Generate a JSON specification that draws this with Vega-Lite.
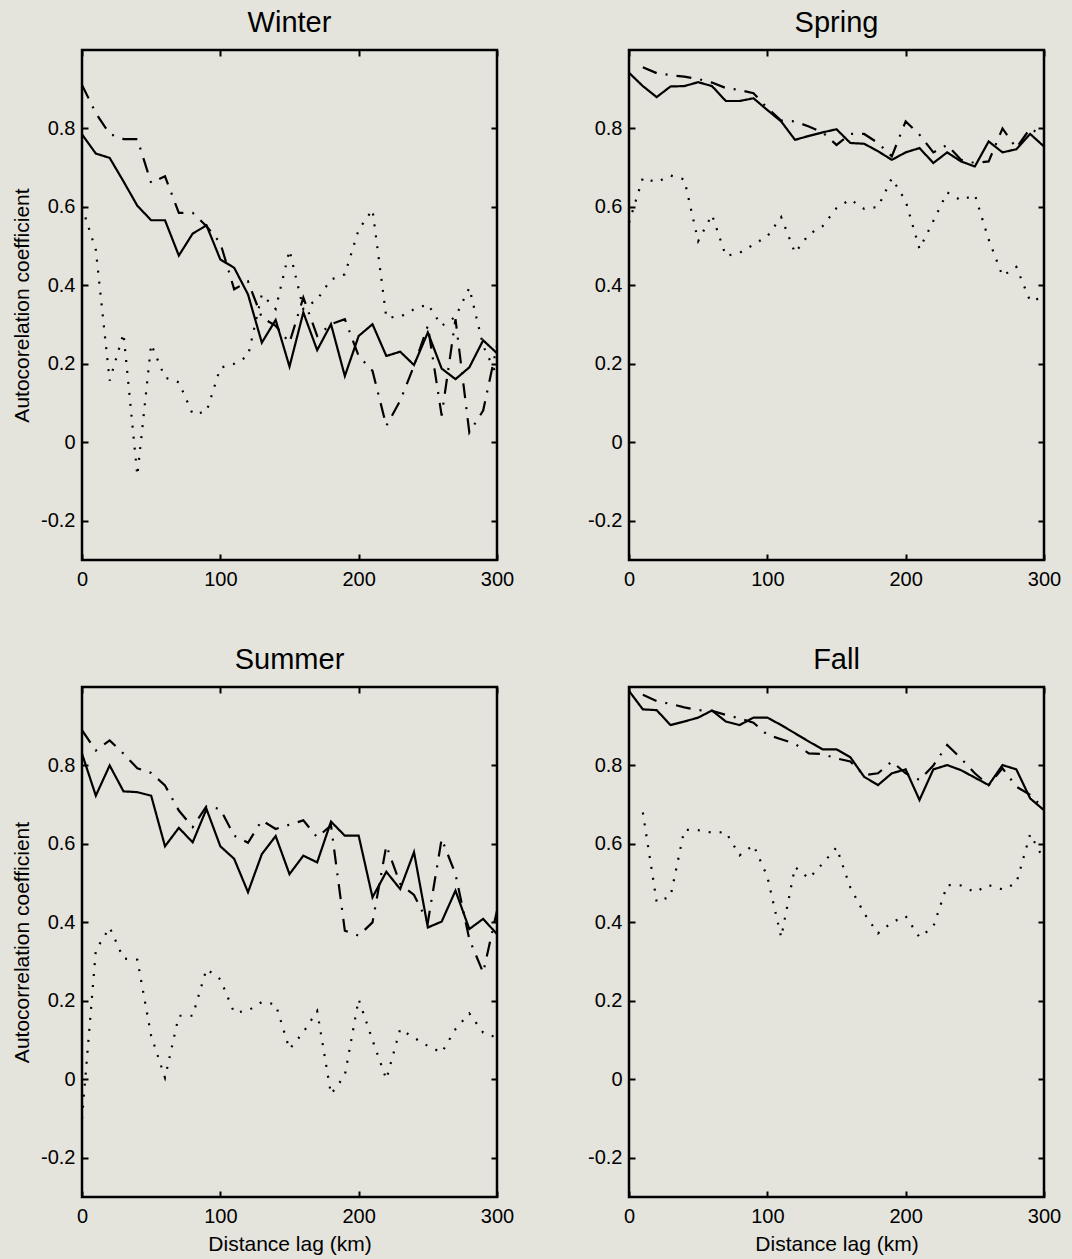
{
  "$schema": "https://vega.github.io/schema/vega-lite/v6.json",
  "background": "#e4e4dd",
  "padding": {"left": 10, "top": 7, "right": 27, "bottom": 4},
  "data": {"values": [
    {"season":"Winter","series":"series 1","lag":0,"r":0.785},{"season":"Winter","series":"series 1","lag":10,"r":0.736},{"season":"Winter","series":"series 1","lag":20,"r":0.725},{"season":"Winter","series":"series 1","lag":30,"r":0.665},{"season":"Winter","series":"series 1","lag":40,"r":0.603},{"season":"Winter","series":"series 1","lag":50,"r":0.566},{"season":"Winter","series":"series 1","lag":60,"r":0.566},{"season":"Winter","series":"series 1","lag":70,"r":0.476},{"season":"Winter","series":"series 1","lag":80,"r":0.532},{"season":"Winter","series":"series 1","lag":90,"r":0.553},{"season":"Winter","series":"series 1","lag":100,"r":0.466},{"season":"Winter","series":"series 1","lag":110,"r":0.445},{"season":"Winter","series":"series 1","lag":120,"r":0.377},{"season":"Winter","series":"series 1","lag":130,"r":0.254},{"season":"Winter","series":"series 1","lag":140,"r":0.312},{"season":"Winter","series":"series 1","lag":150,"r":0.193},{"season":"Winter","series":"series 1","lag":160,"r":0.331},{"season":"Winter","series":"series 1","lag":170,"r":0.235},{"season":"Winter","series":"series 1","lag":180,"r":0.301},{"season":"Winter","series":"series 1","lag":190,"r":0.169},{"season":"Winter","series":"series 1","lag":200,"r":0.271},{"season":"Winter","series":"series 1","lag":210,"r":0.301},{"season":"Winter","series":"series 1","lag":220,"r":0.22},{"season":"Winter","series":"series 1","lag":230,"r":0.231},{"season":"Winter","series":"series 1","lag":240,"r":0.197},{"season":"Winter","series":"series 1","lag":250,"r":0.28},{"season":"Winter","series":"series 1","lag":260,"r":0.188},{"season":"Winter","series":"series 1","lag":270,"r":0.161},{"season":"Winter","series":"series 1","lag":280,"r":0.191},{"season":"Winter","series":"series 1","lag":290,"r":0.26},{"season":"Winter","series":"series 1","lag":300,"r":0.227},
    {"season":"Winter","series":"series 2","lag":0,"r":0.911},{"season":"Winter","series":"series 2","lag":10,"r":0.839},{"season":"Winter","series":"series 2","lag":20,"r":0.786},{"season":"Winter","series":"series 2","lag":30,"r":0.773},{"season":"Winter","series":"series 2","lag":40,"r":0.773},{"season":"Winter","series":"series 2","lag":50,"r":0.661},{"season":"Winter","series":"series 2","lag":60,"r":0.678},{"season":"Winter","series":"series 2","lag":70,"r":0.585},{"season":"Winter","series":"series 2","lag":80,"r":0.585},{"season":"Winter","series":"series 2","lag":90,"r":0.551},{"season":"Winter","series":"series 2","lag":100,"r":0.508},{"season":"Winter","series":"series 2","lag":110,"r":0.39},{"season":"Winter","series":"series 2","lag":120,"r":0.41},{"season":"Winter","series":"series 2","lag":130,"r":0.318},{"season":"Winter","series":"series 2","lag":140,"r":0.297},{"season":"Winter","series":"series 2","lag":150,"r":0.254},{"season":"Winter","series":"series 2","lag":160,"r":0.369},{"season":"Winter","series":"series 2","lag":170,"r":0.271},{"season":"Winter","series":"series 2","lag":180,"r":0.301},{"season":"Winter","series":"series 2","lag":190,"r":0.314},{"season":"Winter","series":"series 2","lag":200,"r":0.22},{"season":"Winter","series":"series 2","lag":210,"r":0.182},{"season":"Winter","series":"series 2","lag":220,"r":0.042},{"season":"Winter","series":"series 2","lag":230,"r":0.106},{"season":"Winter","series":"series 2","lag":240,"r":0.195},{"season":"Winter","series":"series 2","lag":250,"r":0.297},{"season":"Winter","series":"series 2","lag":260,"r":0.068},{"season":"Winter","series":"series 2","lag":270,"r":0.314},{"season":"Winter","series":"series 2","lag":280,"r":0.025},{"season":"Winter","series":"series 2","lag":290,"r":0.081},{"season":"Winter","series":"series 2","lag":300,"r":0.246},
    {"season":"Winter","series":"series 3","lag":0,"r":0.6},{"season":"Winter","series":"series 3","lag":10,"r":0.49},{"season":"Winter","series":"series 3","lag":20,"r":0.157},{"season":"Winter","series":"series 3","lag":30,"r":0.278},{"season":"Winter","series":"series 3","lag":40,"r":-0.085},{"season":"Winter","series":"series 3","lag":50,"r":0.25},{"season":"Winter","series":"series 3","lag":60,"r":0.165},{"season":"Winter","series":"series 3","lag":70,"r":0.153},{"season":"Winter","series":"series 3","lag":80,"r":0.072},{"season":"Winter","series":"series 3","lag":90,"r":0.078},{"season":"Winter","series":"series 3","lag":100,"r":0.19},{"season":"Winter","series":"series 3","lag":110,"r":0.2},{"season":"Winter","series":"series 3","lag":120,"r":0.22},{"season":"Winter","series":"series 3","lag":130,"r":0.377},{"season":"Winter","series":"series 3","lag":140,"r":0.34},{"season":"Winter","series":"series 3","lag":150,"r":0.49},{"season":"Winter","series":"series 3","lag":160,"r":0.34},{"season":"Winter","series":"series 3","lag":170,"r":0.364},{"season":"Winter","series":"series 3","lag":180,"r":0.415},{"season":"Winter","series":"series 3","lag":190,"r":0.428},{"season":"Winter","series":"series 3","lag":200,"r":0.542},{"season":"Winter","series":"series 3","lag":210,"r":0.593},{"season":"Winter","series":"series 3","lag":220,"r":0.318},{"season":"Winter","series":"series 3","lag":230,"r":0.32},{"season":"Winter","series":"series 3","lag":240,"r":0.339},{"season":"Winter","series":"series 3","lag":250,"r":0.352},{"season":"Winter","series":"series 3","lag":260,"r":0.297},{"season":"Winter","series":"series 3","lag":270,"r":0.32},{"season":"Winter","series":"series 3","lag":280,"r":0.394},{"season":"Winter","series":"series 3","lag":290,"r":0.246},{"season":"Winter","series":"series 3","lag":300,"r":0.17},
    {"season":"Spring","series":"series 1","lag":0,"r":0.942},{"season":"Spring","series":"series 1","lag":10,"r":0.908},{"season":"Spring","series":"series 1","lag":20,"r":0.88},{"season":"Spring","series":"series 1","lag":30,"r":0.907},{"season":"Spring","series":"series 1","lag":40,"r":0.908},{"season":"Spring","series":"series 1","lag":50,"r":0.918},{"season":"Spring","series":"series 1","lag":60,"r":0.908},{"season":"Spring","series":"series 1","lag":70,"r":0.87},{"season":"Spring","series":"series 1","lag":80,"r":0.87},{"season":"Spring","series":"series 1","lag":90,"r":0.877},{"season":"Spring","series":"series 1","lag":100,"r":0.847},{"season":"Spring","series":"series 1","lag":110,"r":0.818},{"season":"Spring","series":"series 1","lag":120,"r":0.771},{"season":"Spring","series":"series 1","lag":130,"r":0.781},{"season":"Spring","series":"series 1","lag":140,"r":0.79},{"season":"Spring","series":"series 1","lag":150,"r":0.798},{"season":"Spring","series":"series 1","lag":160,"r":0.763},{"season":"Spring","series":"series 1","lag":170,"r":0.761},{"season":"Spring","series":"series 1","lag":180,"r":0.742},{"season":"Spring","series":"series 1","lag":190,"r":0.72},{"season":"Spring","series":"series 1","lag":200,"r":0.739},{"season":"Spring","series":"series 1","lag":210,"r":0.75},{"season":"Spring","series":"series 1","lag":220,"r":0.712},{"season":"Spring","series":"series 1","lag":230,"r":0.739},{"season":"Spring","series":"series 1","lag":240,"r":0.716},{"season":"Spring","series":"series 1","lag":250,"r":0.703},{"season":"Spring","series":"series 1","lag":260,"r":0.767},{"season":"Spring","series":"series 1","lag":270,"r":0.739},{"season":"Spring","series":"series 1","lag":280,"r":0.747},{"season":"Spring","series":"series 1","lag":290,"r":0.786},{"season":"Spring","series":"series 1","lag":300,"r":0.754},
    {"season":"Spring","series":"series 2","lag":10,"r":0.956},{"season":"Spring","series":"series 2","lag":20,"r":0.941},{"season":"Spring","series":"series 2","lag":30,"r":0.936},{"season":"Spring","series":"series 2","lag":40,"r":0.932},{"season":"Spring","series":"series 2","lag":50,"r":0.926},{"season":"Spring","series":"series 2","lag":60,"r":0.917},{"season":"Spring","series":"series 2","lag":70,"r":0.903},{"season":"Spring","series":"series 2","lag":80,"r":0.898},{"season":"Spring","series":"series 2","lag":90,"r":0.89},{"season":"Spring","series":"series 2","lag":100,"r":0.852},{"season":"Spring","series":"series 2","lag":110,"r":0.82},{"season":"Spring","series":"series 2","lag":120,"r":0.818},{"season":"Spring","series":"series 2","lag":130,"r":0.805},{"season":"Spring","series":"series 2","lag":140,"r":0.79},{"season":"Spring","series":"series 2","lag":150,"r":0.758},{"season":"Spring","series":"series 2","lag":160,"r":0.786},{"season":"Spring","series":"series 2","lag":170,"r":0.786},{"season":"Spring","series":"series 2","lag":180,"r":0.763},{"season":"Spring","series":"series 2","lag":190,"r":0.729},{"season":"Spring","series":"series 2","lag":200,"r":0.818},{"season":"Spring","series":"series 2","lag":210,"r":0.784},{"season":"Spring","series":"series 2","lag":220,"r":0.739},{"season":"Spring","series":"series 2","lag":230,"r":0.758},{"season":"Spring","series":"series 2","lag":240,"r":0.72},{"season":"Spring","series":"series 2","lag":250,"r":0.712},{"season":"Spring","series":"series 2","lag":260,"r":0.716},{"season":"Spring","series":"series 2","lag":270,"r":0.8},{"season":"Spring","series":"series 2","lag":280,"r":0.75},{"season":"Spring","series":"series 2","lag":290,"r":0.8},{"season":"Spring","series":"series 2","lag":300,"r":0.78},
    {"season":"Spring","series":"series 3","lag":0,"r":0.56},{"season":"Spring","series":"series 3","lag":10,"r":0.674},{"season":"Spring","series":"series 3","lag":20,"r":0.663},{"season":"Spring","series":"series 3","lag":30,"r":0.68},{"season":"Spring","series":"series 3","lag":40,"r":0.67},{"season":"Spring","series":"series 3","lag":50,"r":0.513},{"season":"Spring","series":"series 3","lag":60,"r":0.58},{"season":"Spring","series":"series 3","lag":70,"r":0.475},{"season":"Spring","series":"series 3","lag":80,"r":0.483},{"season":"Spring","series":"series 3","lag":90,"r":0.504},{"season":"Spring","series":"series 3","lag":100,"r":0.525},{"season":"Spring","series":"series 3","lag":110,"r":0.574},{"season":"Spring","series":"series 3","lag":120,"r":0.483},{"season":"Spring","series":"series 3","lag":130,"r":0.53},{"season":"Spring","series":"series 3","lag":140,"r":0.551},{"season":"Spring","series":"series 3","lag":150,"r":0.597},{"season":"Spring","series":"series 3","lag":160,"r":0.619},{"season":"Spring","series":"series 3","lag":170,"r":0.595},{"season":"Spring","series":"series 3","lag":180,"r":0.6},{"season":"Spring","series":"series 3","lag":190,"r":0.673},{"season":"Spring","series":"series 3","lag":200,"r":0.615},{"season":"Spring","series":"series 3","lag":210,"r":0.493},{"season":"Spring","series":"series 3","lag":220,"r":0.564},{"season":"Spring","series":"series 3","lag":230,"r":0.637},{"season":"Spring","series":"series 3","lag":240,"r":0.617},{"season":"Spring","series":"series 3","lag":250,"r":0.631},{"season":"Spring","series":"series 3","lag":260,"r":0.517},{"season":"Spring","series":"series 3","lag":270,"r":0.424},{"season":"Spring","series":"series 3","lag":280,"r":0.447},{"season":"Spring","series":"series 3","lag":290,"r":0.36},{"season":"Spring","series":"series 3","lag":300,"r":0.37},
    {"season":"Summer","series":"series 1","lag":0,"r":0.83},{"season":"Summer","series":"series 1","lag":10,"r":0.723},{"season":"Summer","series":"series 1","lag":20,"r":0.8},{"season":"Summer","series":"series 1","lag":30,"r":0.734},{"season":"Summer","series":"series 1","lag":40,"r":0.732},{"season":"Summer","series":"series 1","lag":50,"r":0.723},{"season":"Summer","series":"series 1","lag":60,"r":0.594},{"season":"Summer","series":"series 1","lag":70,"r":0.641},{"season":"Summer","series":"series 1","lag":80,"r":0.604},{"season":"Summer","series":"series 1","lag":90,"r":0.689},{"season":"Summer","series":"series 1","lag":100,"r":0.594},{"season":"Summer","series":"series 1","lag":110,"r":0.562},{"season":"Summer","series":"series 1","lag":120,"r":0.477},{"season":"Summer","series":"series 1","lag":130,"r":0.574},{"season":"Summer","series":"series 1","lag":140,"r":0.62},{"season":"Summer","series":"series 1","lag":150,"r":0.523},{"season":"Summer","series":"series 1","lag":160,"r":0.57},{"season":"Summer","series":"series 1","lag":170,"r":0.553},{"season":"Summer","series":"series 1","lag":180,"r":0.657},{"season":"Summer","series":"series 1","lag":190,"r":0.621},{"season":"Summer","series":"series 1","lag":200,"r":0.621},{"season":"Summer","series":"series 1","lag":210,"r":0.464},{"season":"Summer","series":"series 1","lag":220,"r":0.529},{"season":"Summer","series":"series 1","lag":230,"r":0.485},{"season":"Summer","series":"series 1","lag":240,"r":0.579},{"season":"Summer","series":"series 1","lag":250,"r":0.387},{"season":"Summer","series":"series 1","lag":260,"r":0.402},{"season":"Summer","series":"series 1","lag":270,"r":0.481},{"season":"Summer","series":"series 1","lag":280,"r":0.383},{"season":"Summer","series":"series 1","lag":290,"r":0.409},{"season":"Summer","series":"series 1","lag":300,"r":0.37},
    {"season":"Summer","series":"series 2","lag":0,"r":0.89},{"season":"Summer","series":"series 2","lag":10,"r":0.838},{"season":"Summer","series":"series 2","lag":20,"r":0.864},{"season":"Summer","series":"series 2","lag":30,"r":0.83},{"season":"Summer","series":"series 2","lag":40,"r":0.793},{"season":"Summer","series":"series 2","lag":50,"r":0.781},{"season":"Summer","series":"series 2","lag":60,"r":0.749},{"season":"Summer","series":"series 2","lag":70,"r":0.685},{"season":"Summer","series":"series 2","lag":80,"r":0.643},{"season":"Summer","series":"series 2","lag":90,"r":0.696},{"season":"Summer","series":"series 2","lag":100,"r":0.689},{"season":"Summer","series":"series 2","lag":110,"r":0.621},{"season":"Summer","series":"series 2","lag":120,"r":0.603},{"season":"Summer","series":"series 2","lag":130,"r":0.66},{"season":"Summer","series":"series 2","lag":140,"r":0.638},{"season":"Summer","series":"series 2","lag":150,"r":0.649},{"season":"Summer","series":"series 2","lag":160,"r":0.66},{"season":"Summer","series":"series 2","lag":170,"r":0.617},{"season":"Summer","series":"series 2","lag":180,"r":0.647},{"season":"Summer","series":"series 2","lag":190,"r":0.379},{"season":"Summer","series":"series 2","lag":200,"r":0.366},{"season":"Summer","series":"series 2","lag":210,"r":0.4},{"season":"Summer","series":"series 2","lag":220,"r":0.596},{"season":"Summer","series":"series 2","lag":230,"r":0.498},{"season":"Summer","series":"series 2","lag":240,"r":0.47},{"season":"Summer","series":"series 2","lag":250,"r":0.4},{"season":"Summer","series":"series 2","lag":260,"r":0.613},{"season":"Summer","series":"series 2","lag":270,"r":0.523},{"season":"Summer","series":"series 2","lag":280,"r":0.357},{"season":"Summer","series":"series 2","lag":290,"r":0.272},{"season":"Summer","series":"series 2","lag":300,"r":0.43},
    {"season":"Summer","series":"series 3","lag":0,"r":-0.1},{"season":"Summer","series":"series 3","lag":10,"r":0.329},{"season":"Summer","series":"series 3","lag":20,"r":0.387},{"season":"Summer","series":"series 3","lag":30,"r":0.308},{"season":"Summer","series":"series 3","lag":40,"r":0.305},{"season":"Summer","series":"series 3","lag":50,"r":0.111},{"season":"Summer","series":"series 3","lag":60,"r":0.004},{"season":"Summer","series":"series 3","lag":70,"r":0.162},{"season":"Summer","series":"series 3","lag":80,"r":0.162},{"season":"Summer","series":"series 3","lag":90,"r":0.281},{"season":"Summer","series":"series 3","lag":100,"r":0.255},{"season":"Summer","series":"series 3","lag":110,"r":0.17},{"season":"Summer","series":"series 3","lag":120,"r":0.175},{"season":"Summer","series":"series 3","lag":130,"r":0.197},{"season":"Summer","series":"series 3","lag":140,"r":0.191},{"season":"Summer","series":"series 3","lag":150,"r":0.077},{"season":"Summer","series":"series 3","lag":160,"r":0.12},{"season":"Summer","series":"series 3","lag":170,"r":0.174},{"season":"Summer","series":"series 3","lag":180,"r":-0.038},{"season":"Summer","series":"series 3","lag":190,"r":0.01},{"season":"Summer","series":"series 3","lag":200,"r":0.204},{"season":"Summer","series":"series 3","lag":210,"r":0.1},{"season":"Summer","series":"series 3","lag":220,"r":0.0},{"season":"Summer","series":"series 3","lag":230,"r":0.128},{"season":"Summer","series":"series 3","lag":240,"r":0.106},{"season":"Summer","series":"series 3","lag":250,"r":0.085},{"season":"Summer","series":"series 3","lag":260,"r":0.068},{"season":"Summer","series":"series 3","lag":270,"r":0.128},{"season":"Summer","series":"series 3","lag":280,"r":0.168},{"season":"Summer","series":"series 3","lag":290,"r":0.119},{"season":"Summer","series":"series 3","lag":300,"r":0.106},
    {"season":"Fall","series":"series 1","lag":0,"r":0.99},{"season":"Fall","series":"series 1","lag":10,"r":0.943},{"season":"Fall","series":"series 1","lag":20,"r":0.941},{"season":"Fall","series":"series 1","lag":30,"r":0.903},{"season":"Fall","series":"series 1","lag":40,"r":0.912},{"season":"Fall","series":"series 1","lag":50,"r":0.922},{"season":"Fall","series":"series 1","lag":60,"r":0.94},{"season":"Fall","series":"series 1","lag":70,"r":0.912},{"season":"Fall","series":"series 1","lag":80,"r":0.903},{"season":"Fall","series":"series 1","lag":90,"r":0.922},{"season":"Fall","series":"series 1","lag":100,"r":0.922},{"season":"Fall","series":"series 1","lag":110,"r":0.903},{"season":"Fall","series":"series 1","lag":120,"r":0.882},{"season":"Fall","series":"series 1","lag":130,"r":0.861},{"season":"Fall","series":"series 1","lag":140,"r":0.841},{"season":"Fall","series":"series 1","lag":150,"r":0.841},{"season":"Fall","series":"series 1","lag":160,"r":0.821},{"season":"Fall","series":"series 1","lag":170,"r":0.771},{"season":"Fall","series":"series 1","lag":180,"r":0.75},{"season":"Fall","series":"series 1","lag":190,"r":0.78},{"season":"Fall","series":"series 1","lag":200,"r":0.79},{"season":"Fall","series":"series 1","lag":210,"r":0.712},{"season":"Fall","series":"series 1","lag":220,"r":0.79},{"season":"Fall","series":"series 1","lag":230,"r":0.801},{"season":"Fall","series":"series 1","lag":240,"r":0.788},{"season":"Fall","series":"series 1","lag":250,"r":0.769},{"season":"Fall","series":"series 1","lag":260,"r":0.75},{"season":"Fall","series":"series 1","lag":270,"r":0.801},{"season":"Fall","series":"series 1","lag":280,"r":0.79},{"season":"Fall","series":"series 1","lag":290,"r":0.716},{"season":"Fall","series":"series 1","lag":300,"r":0.686},
    {"season":"Fall","series":"series 2","lag":10,"r":0.98},{"season":"Fall","series":"series 2","lag":20,"r":0.964},{"season":"Fall","series":"series 2","lag":30,"r":0.957},{"season":"Fall","series":"series 2","lag":40,"r":0.948},{"season":"Fall","series":"series 2","lag":50,"r":0.941},{"season":"Fall","series":"series 2","lag":60,"r":0.939},{"season":"Fall","series":"series 2","lag":70,"r":0.929},{"season":"Fall","series":"series 2","lag":80,"r":0.92},{"season":"Fall","series":"series 2","lag":90,"r":0.909},{"season":"Fall","series":"series 2","lag":100,"r":0.878},{"season":"Fall","series":"series 2","lag":110,"r":0.867},{"season":"Fall","series":"series 2","lag":120,"r":0.855},{"season":"Fall","series":"series 2","lag":130,"r":0.831},{"season":"Fall","series":"series 2","lag":140,"r":0.829},{"season":"Fall","series":"series 2","lag":150,"r":0.818},{"season":"Fall","series":"series 2","lag":160,"r":0.81},{"season":"Fall","series":"series 2","lag":170,"r":0.775},{"season":"Fall","series":"series 2","lag":180,"r":0.78},{"season":"Fall","series":"series 2","lag":190,"r":0.81},{"season":"Fall","series":"series 2","lag":200,"r":0.78},{"season":"Fall","series":"series 2","lag":210,"r":0.763},{"season":"Fall","series":"series 2","lag":220,"r":0.8},{"season":"Fall","series":"series 2","lag":230,"r":0.852},{"season":"Fall","series":"series 2","lag":240,"r":0.818},{"season":"Fall","series":"series 2","lag":250,"r":0.78},{"season":"Fall","series":"series 2","lag":260,"r":0.75},{"season":"Fall","series":"series 2","lag":270,"r":0.793},{"season":"Fall","series":"series 2","lag":280,"r":0.746},{"season":"Fall","series":"series 2","lag":290,"r":0.725},{"season":"Fall","series":"series 2","lag":300,"r":0.69},
    {"season":"Fall","series":"series 3","lag":10,"r":0.68},{"season":"Fall","series":"series 3","lag":20,"r":0.452},{"season":"Fall","series":"series 3","lag":30,"r":0.466},{"season":"Fall","series":"series 3","lag":40,"r":0.636},{"season":"Fall","series":"series 3","lag":50,"r":0.635},{"season":"Fall","series":"series 3","lag":60,"r":0.629},{"season":"Fall","series":"series 3","lag":70,"r":0.63},{"season":"Fall","series":"series 3","lag":80,"r":0.571},{"season":"Fall","series":"series 3","lag":90,"r":0.597},{"season":"Fall","series":"series 3","lag":100,"r":0.517},{"season":"Fall","series":"series 3","lag":110,"r":0.362},{"season":"Fall","series":"series 3","lag":120,"r":0.541},{"season":"Fall","series":"series 3","lag":130,"r":0.512},{"season":"Fall","series":"series 3","lag":140,"r":0.55},{"season":"Fall","series":"series 3","lag":150,"r":0.591},{"season":"Fall","series":"series 3","lag":160,"r":0.489},{"season":"Fall","series":"series 3","lag":170,"r":0.423},{"season":"Fall","series":"series 3","lag":180,"r":0.372},{"season":"Fall","series":"series 3","lag":190,"r":0.4},{"season":"Fall","series":"series 3","lag":200,"r":0.416},{"season":"Fall","series":"series 3","lag":210,"r":0.362},{"season":"Fall","series":"series 3","lag":220,"r":0.389},{"season":"Fall","series":"series 3","lag":230,"r":0.495},{"season":"Fall","series":"series 3","lag":240,"r":0.494},{"season":"Fall","series":"series 3","lag":250,"r":0.477},{"season":"Fall","series":"series 3","lag":260,"r":0.495},{"season":"Fall","series":"series 3","lag":270,"r":0.484},{"season":"Fall","series":"series 3","lag":280,"r":0.5},{"season":"Fall","series":"series 3","lag":290,"r":0.625},{"season":"Fall","series":"series 3","lag":300,"r":0.56}
  ]},
  "columns": 2,
  "bounds": "flush",
  "spacing": {"row": 127, "column": 132},
  "concat": [
    {
      "title": {"text": "Winter"},
      "width": 415, "height": 510,
      "transform": [{"filter": "datum.season === 'Winter'"}],
      "layer": [
        {"mark": {"type": "line", "color": "black", "strokeWidth": 2.2},
         "encoding": {
           "x": {"field": "lag", "type": "quantitative", "scale": {"domain": [0, 300], "nice": false, "zero": false}, "axis": {"orient": "bottom", "title": null, "values": [0, 100, 200, 300]}},
           "y": {"field": "r", "type": "quantitative", "scale": {"domain": [-0.3, 1.0], "nice": false, "zero": false}, "axis": {"orient": "left", "title": "Autocorelation coefficient", "values": [-0.2, 0, 0.2, 0.4, 0.6, 0.8], "format": ".1~f", "labelExpr": "replace(datum.label, '−', '-')"}},
           "strokeDash": {"field": "series", "type": "nominal", "scale": {"domain": ["series 1", "series 2", "series 3"], "range": [[1, 0], [15, 9, 2, 9], [2, 9]]}, "legend": null}
         }},
        {"mark": {"type": "point", "opacity": 0},
         "encoding": {
           "x": {"field": "lag", "type": "quantitative", "axis": {"orient": "top", "title": null, "labels": false, "values": [0, 100, 200, 300]}},
           "y": {"field": "r", "type": "quantitative", "axis": {"orient": "right", "title": null, "labels": false, "values": [-0.2, 0, 0.2, 0.4, 0.6, 0.8]}}
         }}
      ],
      "resolve": {"axis": {"x": "independent", "y": "independent"}}
    },
    {
      "title": {"text": "Spring"},
      "width": 415, "height": 510,
      "transform": [{"filter": "datum.season === 'Spring'"}],
      "layer": [
        {"mark": {"type": "line", "color": "black", "strokeWidth": 2.2},
         "encoding": {
           "x": {"field": "lag", "type": "quantitative", "scale": {"domain": [0, 300], "nice": false, "zero": false}, "axis": {"orient": "bottom", "title": null, "values": [0, 100, 200, 300]}},
           "y": {"field": "r", "type": "quantitative", "scale": {"domain": [-0.3, 1.0], "nice": false, "zero": false}, "axis": {"orient": "left", "title": null, "values": [-0.2, 0, 0.2, 0.4, 0.6, 0.8], "format": ".1~f", "labelExpr": "replace(datum.label, '−', '-')"}},
           "strokeDash": {"field": "series", "type": "nominal", "scale": {"domain": ["series 1", "series 2", "series 3"], "range": [[1, 0], [15, 9, 2, 9], [2, 9]]}, "legend": null}
         }},
        {"mark": {"type": "point", "opacity": 0},
         "encoding": {
           "x": {"field": "lag", "type": "quantitative", "axis": {"orient": "top", "title": null, "labels": false, "values": [0, 100, 200, 300]}},
           "y": {"field": "r", "type": "quantitative", "axis": {"orient": "right", "title": null, "labels": false, "values": [-0.2, 0, 0.2, 0.4, 0.6, 0.8]}}
         }}
      ],
      "resolve": {"axis": {"x": "independent", "y": "independent"}}
    },
    {
      "title": {"text": "Summer"},
      "width": 415, "height": 510,
      "transform": [{"filter": "datum.season === 'Summer'"}],
      "layer": [
        {"mark": {"type": "line", "color": "black", "strokeWidth": 2.2},
         "encoding": {
           "x": {"field": "lag", "type": "quantitative", "scale": {"domain": [0, 300], "nice": false, "zero": false}, "axis": {"orient": "bottom", "title": "Distance lag (km)", "values": [0, 100, 200, 300]}},
           "y": {"field": "r", "type": "quantitative", "scale": {"domain": [-0.3, 1.0], "nice": false, "zero": false}, "axis": {"orient": "left", "title": "Autocorrelation coefficient", "values": [-0.2, 0, 0.2, 0.4, 0.6, 0.8], "format": ".1~f", "labelExpr": "replace(datum.label, '−', '-')"}},
           "strokeDash": {"field": "series", "type": "nominal", "scale": {"domain": ["series 1", "series 2", "series 3"], "range": [[1, 0], [15, 9, 2, 9], [2, 9]]}, "legend": null}
         }},
        {"mark": {"type": "point", "opacity": 0},
         "encoding": {
           "x": {"field": "lag", "type": "quantitative", "axis": {"orient": "top", "title": null, "labels": false, "values": [0, 100, 200, 300]}},
           "y": {"field": "r", "type": "quantitative", "axis": {"orient": "right", "title": null, "labels": false, "values": [-0.2, 0, 0.2, 0.4, 0.6, 0.8]}}
         }}
      ],
      "resolve": {"axis": {"x": "independent", "y": "independent"}}
    },
    {
      "title": {"text": "Fall"},
      "width": 415, "height": 510,
      "transform": [{"filter": "datum.season === 'Fall'"}],
      "layer": [
        {"mark": {"type": "line", "color": "black", "strokeWidth": 2.2},
         "encoding": {
           "x": {"field": "lag", "type": "quantitative", "scale": {"domain": [0, 300], "nice": false, "zero": false}, "axis": {"orient": "bottom", "title": "Distance lag (km)", "values": [0, 100, 200, 300]}},
           "y": {"field": "r", "type": "quantitative", "scale": {"domain": [-0.3, 1.0], "nice": false, "zero": false}, "axis": {"orient": "left", "title": null, "values": [-0.2, 0, 0.2, 0.4, 0.6, 0.8], "format": ".1~f", "labelExpr": "replace(datum.label, '−', '-')"}},
           "strokeDash": {"field": "series", "type": "nominal", "scale": {"domain": ["series 1", "series 2", "series 3"], "range": [[1, 0], [15, 9, 2, 9], [2, 9]]}, "legend": null}
         }},
        {"mark": {"type": "point", "opacity": 0},
         "encoding": {
           "x": {"field": "lag", "type": "quantitative", "axis": {"orient": "top", "title": null, "labels": false, "values": [0, 100, 200, 300]}},
           "y": {"field": "r", "type": "quantitative", "axis": {"orient": "right", "title": null, "labels": false, "values": [-0.2, 0, 0.2, 0.4, 0.6, 0.8]}}
         }}
      ],
      "resolve": {"axis": {"x": "independent", "y": "independent"}}
    }
  ],
  "config": {
    "view": {"stroke": "black", "strokeWidth": 2.5},
    "axis": {"domain": false, "grid": false, "ticks": true, "tickSize": -6, "tickWidth": 2, "tickColor": "black", "labelColor": "black", "labelFont": "Liberation Sans", "labelFontSize": 20, "labelPadding": 13, "labelFlush": false, "titleFont": "Liberation Sans", "titleFontSize": 21, "titleFontWeight": "normal", "titleColor": "black", "titlePadding": 8},
    "axisBottom": {"labelPadding": 15, "titlePadding": 7},
    "title": {"font": "Liberation Sans", "fontSize": 29, "fontWeight": "normal", "color": "black", "anchor": "middle", "frame": "group", "baseline": "alphabetic", "offset": 11}
  }
}
